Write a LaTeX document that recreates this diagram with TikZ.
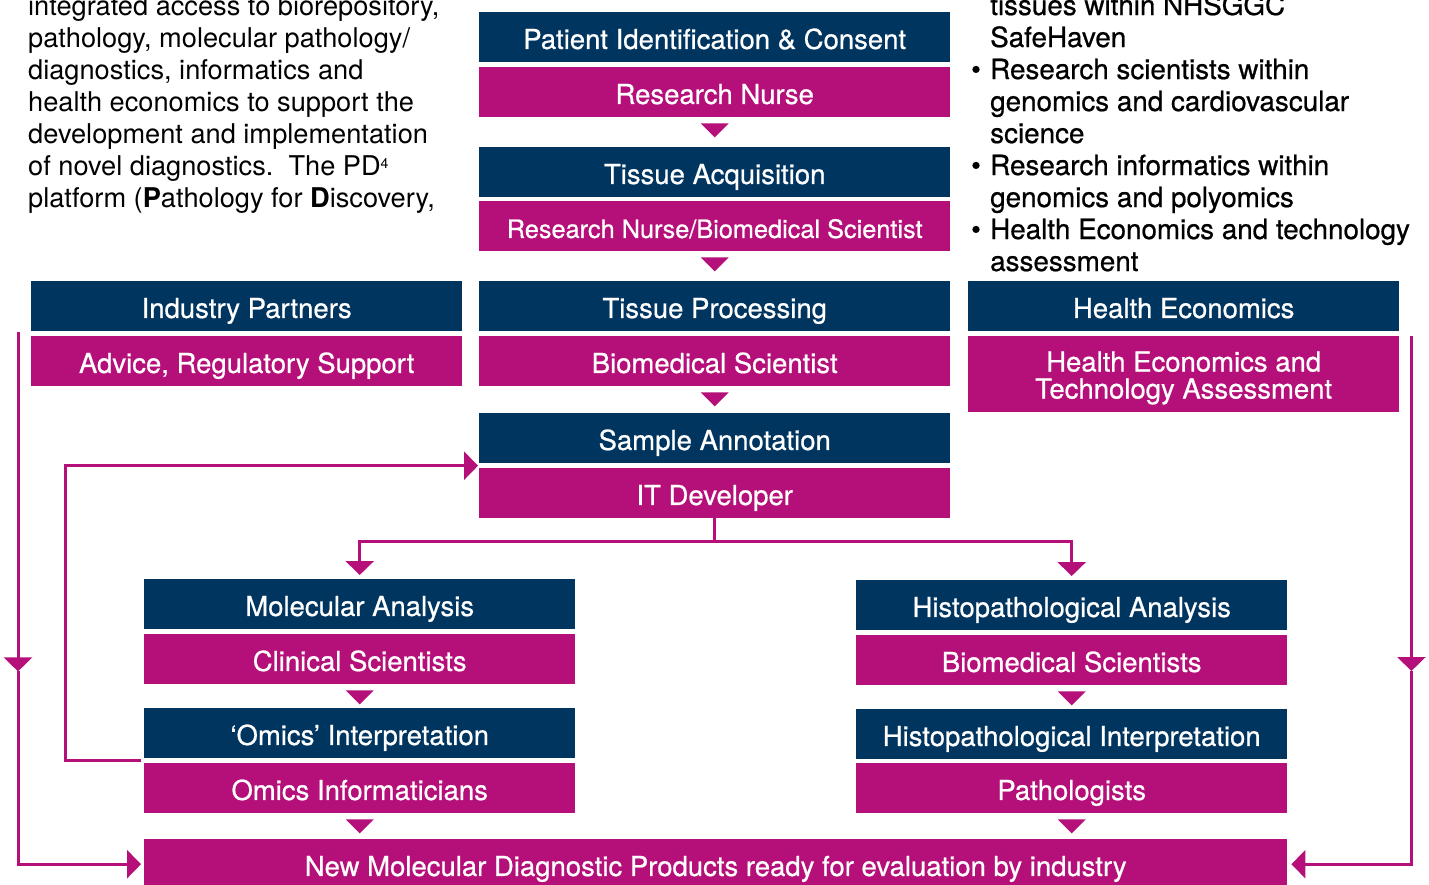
\documentclass[tikz,border=0pt]{standalone}
\usepackage{fontspec}
\setmainfont{TeX Gyre Heros}
\newfontfamily\medfont[RawFeature={embolden=0.7}]{TeX Gyre Heros}
\usetikzlibrary{arrows.meta,calc}
\definecolor{navy}{RGB}{0,53,96}
\definecolor{mag}{RGB}{181,16,122}
% small filled triangle that marks the step below a box
\newcommand\steptri[1]{\fill[mag] ($(#1.south)+(-14,6)$) -- ++(28,0) -- ++(-14,14) -- cycle;}
\begin{document}
\begin{tikzpicture}[x=1pt,y=-1pt,
  box/.style={rectangle, inner sep=0pt, anchor=north west, text=white,
    font=\medfont\fontsize{27.5}{27}\selectfont, align=center},
  oneline/.style={text height=23.5pt, text depth=0pt},
  hd/.style={box, oneline, fill=navy},
  rl/.style={box, oneline, fill=mag},
  wide/.style={minimum width=471pt, minimum height=50pt},
  side/.style={minimum width=431pt, minimum height=50pt},
  conn/.style={draw=mag, line width=3pt},
  tip/.style={-{Triangle[width=28pt,length=14pt]}},
  para/.style={anchor=base west, inner sep=0pt, font=\fontsize{27.2}{32}\selectfont},
  mpara/.style={para, font=\medfont\fontsize{27.8}{32}\selectfont},
]
\useasboundingbox (0,0) rectangle (1429,884);
\clip (0,0) rectangle (1429,884);

% left paragraph
\foreach \t [count=\i from 0] in {
  {integrated access to biorepository,},
  {pathology, molecular pathology/},
  {diagnostics, informatics and},
  {health economics to support the},
  {development and implementation},
  {of novel diagnostics.\ \ The PD\raisebox{7pt}{\fontsize{14}{14}\selectfont 4}},
  {platform (\textbf{P}athology for \textbf{D}iscovery,}}
  \node[para] (lp\i) at (28,15+32*\i) {\t};

% right paragraph
\foreach \t [count=\i from 0] in {
  {tissues within NHSGGC},
  {SafeHaven},
  {Research scientists within},
  {genomics and cardiovascular},
  {science},
  {Research informatics within},
  {genomics and polyomics},
  {Health Economics and technology},
  {assessment}}
  \node[mpara] (rp\i) at (990,15+32*\i) {\t};
\foreach \i in {2,5,7}
  \node[mpara, anchor=base] (bu\i) at (976,15+32*\i) {\textbullet};

% central column
\node[hd, wide] (pic) at (479,12) {Patient Identification \& Consent};
\node[rl, wide] (rn) at (479,67) {Research Nurse};
\node[hd, wide] (ta) at (479,147) {Tissue Acquisition};
\node[rl, wide, font=\medfont\fontsize{25.3}{27}\selectfont] (rnbs) at (479,201) {Research Nurse/Biomedical Scientist};
\node[hd, wide] (tp) at (479,281) {Tissue Processing};
\node[rl, wide] (bs) at (479,336) {Biomedical Scientist};
\node[hd, wide] (sa) at (479,413) {Sample Annotation};
\node[rl, wide] (it) at (479,468) {IT Developer};

% side columns
\node[hd, side] (ip) at (31,281) {Industry Partners};
\node[rl, side] (ars) at (31,336) {Advice, Regulatory Support};
\node[hd, side] (he) at (968,281) {Health Economics};
\node[box, fill=mag, minimum width=431pt, minimum height=76pt,
      text height=33pt, text depth=13pt] (heta) at (968,336)
  {\parbox{420pt}{\centering Health Economics and\\Technology Assessment}};

% lower columns
\node[hd, side] (ma) at (144,579) {Molecular Analysis};
\node[rl, side] (cs) at (144,634) {Clinical Scientists};
\node[hd, side] (oi) at (144,708) {‘Omics’ Interpretation};
\node[rl, side] (om) at (144,763) {Omics Informaticians};
\node[hd, side] (ha) at (856,580) {Histopathological Analysis};
\node[rl, side] (bss) at (856,635) {Biomedical Scientists};
\node[hd, side] (hi) at (856,709) {Histopathological Interpretation};
\node[rl, side] (pa) at (856,763) {Pathologists};

% final product
\node[rl, minimum width=1143pt, minimum height=50pt] (nm) at (144,839)
  {New Molecular Diagnostic Products ready for evaluation by industry};

% step markers
\steptri{rn}
\steptri{rnbs}
\steptri{bs}
\steptri{cs}
\steptri{om}
\steptri{bss}
\steptri{pa}

% split into the two analysis streams
\draw[conn, tip, shorten >=4pt] (it.south) -- ++(0,23) -| (ma.north);
\draw[conn, tip, shorten >=4pt] (it.south) -- ++(0,23) -| (ha.north);

% feedback from omics interpretation to annotation
\coordinate (fbs) at ($(oi.south west)+(-3,2.5)$);
\coordinate (fbe) at ($(sa.south west)!0.5!(it.north west)$);
\draw[conn, tip, shorten >=1pt] (fbs) -- ++(-76,0) |- (fbe);

% industry partners to products
\coordinate (lt) at ($(ip.south west)+(-13,1)$);
\coordinate (lm) at ($(lt)+(0,339)$);
\draw[conn, tip] (lt) -- (lm);
\draw[conn, tip, shorten >=3pt] (lm) |- (nm.west);

% health economics to products
\coordinate (rt) at ($(heta.north east)+(12,0)$);
\coordinate (rm) at ($(rt)+(0,335)$);
\draw[conn, tip] (rt) -- (rm);
\draw[conn, tip, shorten >=4pt] (rm) |- (nm.east);
\end{tikzpicture}
\end{document}
